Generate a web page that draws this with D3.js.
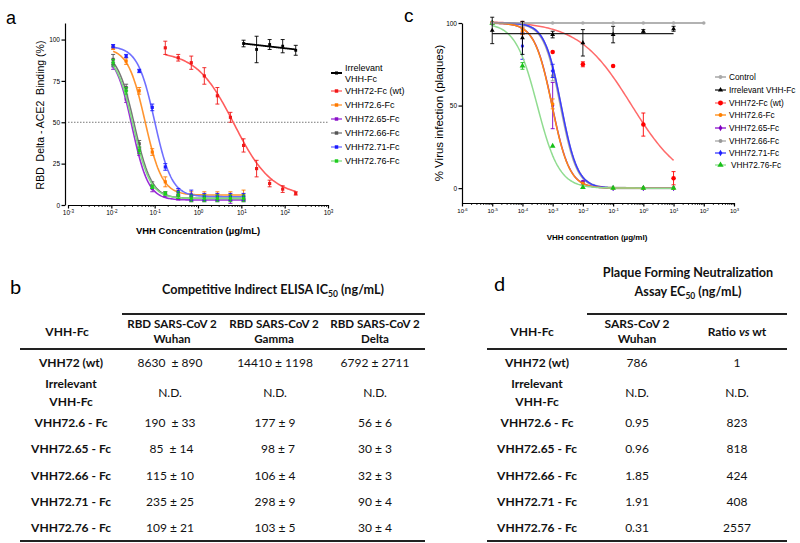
<!DOCTYPE html>
<html>
<head>
<meta charset="utf-8">
<script src="https://cdn.jsdelivr.net/npm/d3@7"></script>
<style>
  body { margin: 0; background: #fff; }
  svg { display: block; }
  .pre { white-space: pre; }
</style>
</head>
<body>
<div id="fig"></div>
<script>
// ---- panel a : competition ELISA, RBD Delta ----
var concA = [0.011, 0.022, 0.044, 0.088, 0.176, 0.35, 0.70, 1.4, 2.8, 5.6, 11.25];
var concAwt = [0.176, 0.35, 0.70, 1.4, 2.8, 5.6, 11.25, 22.5, 45, 90, 180];
var concAirr = [11.25, 22.5, 45, 90, 180];

var aIrrY = [97.6, 94, 97, 96, 93.5], aIrrErr = [2, 8, 3, 4, 3];
var aWtY = [95, 89, 86, 78, 66, 53, 36, 22, 13, 9.6, 7], aWtErr = [4, 2, 4, 5, 5, 3, 4, 5, 2, 2, 1];
var a6Y = [95, 87, 69, 32, 14, 7, 6, 6, 6, 6, 6], a6Err = [1, 2, 2, 2, 3, 2, 2, 2, 2, 2, 3];
var a65Y = [84, 64, 32, 10, 6, 4, 3, 3, 3, 3, 3], a65Err = [2, 2, 2, 2, 1, 1, 1, 1, 1, 2, 1];
var a66Y = [88, 71, 37, 12, 7, 5, 4, 4, 4, 4, 4], a66Err = [3, 2, 2, 2, 1, 1, 1, 1, 1, 1, 1];
var a71Y = [96, 90, 81, 59, 23, 8, 6, 5, 5, 5, 5], a71Err = [1, 1, 1, 2, 2, 2, 3, 2, 2, 2, 2];
var a76Y = [86, 69, 33, 11, 7, 6, 4, 4, 4, 4, 4], a76Err = [2, 2, 2, 1, 1, 2, 2, 2, 2, 2, 2];

// fitted 4PL: [top, bottom, IC50, hill]; irrelevant is a straight line [start, end]
var aIrrFit = [97.6, 94];
var aWtFit = [93, 5, 6.8, 1.0];
var a6Fit = [95, 6, 0.06, 2.2];
var a65Fit = [92, 3, 0.03, 2.3];
var a66Fit = [93, 4, 0.034, 2.2];
var a71Fit = [96, 5, 0.1, 2.2];
var a76Fit = [92, 4, 0.032, 2.2];

// ---- panel c : plaque neutralization ----
var concC = [1e-5, 1e-4, 1e-3, 1e-2, 1e-1, 1, 10];
var concCctrl = [1e-5, 1e-4, 1e-3, 1e-2, 1e-1, 1, 10, 100];

var cCtrlY = [100, 100, 100, 100, 100, 100, 100, 100], cCtrlErr = [0, 0, 0, 0, 0, 0, 0, 0];
var cIrrY = [95.5, 91, 93, 88, 93, 95, 96.5], cIrrErr = [8, 10, 2, 8, 5, 1, 1.5];
var cWtY = [100, 100, 82.5, 75, 74, 38.5, 6], cWtErr = [0, 0.5, 0, 1.5, 0, 7, 4];
var c6Y = [100, 95, 51, 3, 0, 0, 0], c6Err = [0, 2, 3, 0.5, 0, 0, 0];
var c65Y = [100, 95, 50, 3.5, 0, 0, 0], c65Err = [0, 2, 14, 1, 0, 0, 0];
var c66Y = [100, 96, 68, 3, 0, 0, 0], c66Err = [0, 2, 3, 0.5, 0, 0, 0];
var c71Y = [100, 86, 71, 3, 0, 0, 0], c71Err = [0, 8, 4, 1, 0, 0, 0];
var c76Y = [100, 74, 25.5, 0.5, 0, 0, 0], c76Err = [0, 2, 0.5, 0.5, 0, 0, 0];

var cCtrlFit = [100, 100];
var cIrrFit = [93.6, 93.6];
var cWtFit = [101, 0, 0.4, 0.5];
var c6Fit = [100, 0, 0.00095, 1.5];
var c65Fit = [100, 0, 0.00096, 1.5];
var c66Fit = [100, 0, 0.00185, 1.6];
var c71Fit = [100, 0, 0.00191, 1.6];
var c76Fit = [100, 0, 0.00031, 1.2];

// ---- tables b and d ----
var rowNames = ["VHH72 (wt)", "Irrelevant|VHH-Fc", "VHH72.6 - Fc", "VHH72.65 - Fc", "VHH72.66 - Fc", "VHH72.71 - Fc", "VHH72.76 - Fc"];
var bWuhan = ["8630  \u00b1 890", "N.D.", "190  \u00b1 33", " 85  \u00b1 14", "115 \u00b1 10", "235 \u00b1 25", "109 \u00b1 21"];
var bGamma = ["14410 \u00b1 1198", "N.D.", "177 \u00b1 9", "  98 \u00b1 7", "106 \u00b1 4", "298 \u00b1 9", "103 \u00b1 5"];
var bDelta = ["6792 \u00b1 2711", "N.D.", "56 \u00b1 6", "30 \u00b1 3", "32 \u00b1 3", "90 \u00b1 4", "30 \u00b1 4"];
var dEc50 = ["786", "N.D.", "0.95", "0.96", "1.85", "1.91", "0.31"];
var dRatio = ["1", "N.D.", "823", "818", "424", "408", "2557"];

var width = 800, height = 543;
var plotFont = "'Liberation Sans', Arial, sans-serif";
var tableFont = "Lato, 'Open Sans', sans-serif";

var svg = d3.select("#fig").append("svg")
    .attr("width", width)
    .attr("height", height);
svg.append("rect").attr("width", width).attr("height", height).attr("fill", "#fff");

function logistic(p) {
  return function(x) { return p[1] + (p[0] - p[1]) / (1 + Math.pow(x / p[2], p[3])); };
}
function straight(p, lo, hi) {
  return function(x) { return p[0] + (p[1] - p[0]) * Math.log(x / lo) / Math.log(hi / lo); };
}

function logAxis(g, x, y0, labelSize) {
  var majors = x.ticks(40).filter(function(d) { return Math.abs(Math.log10(d) - Math.round(Math.log10(d))) < 1e-9; });
  var minors = x.ticks(40).filter(function(d) { return majors.indexOf(d) < 0; });
  var ax = g.append("g").attr("transform", "translate(0," + y0 + ")")
      .call(d3.axisBottom(x).tickValues(majors).tickSize(3.5).tickSizeOuter(0).tickFormat(""));
  ax.selectAll("path,line").attr("stroke", "#000").attr("stroke-width", 1.2);
  ax.selectAll(".tick").append("text")
      .attr("y", 10).attr("fill", "#000")
      .attr("font-family", plotFont).attr("font-size", labelSize).attr("text-anchor", "middle")
      .each(function(d) {
        var t = d3.select(this);
        t.append("tspan").text("10");
        t.append("tspan").attr("dy", -2.5).attr("font-size", labelSize * 0.7).text(String(Math.round(Math.log10(d))));
      });
  var mi = g.append("g").attr("transform", "translate(0," + y0 + ")")
      .call(d3.axisBottom(x).tickValues(minors).tickSize(2).tickFormat(""));
  mi.select(".domain").remove();
  mi.selectAll("line").attr("stroke", "#000").attr("stroke-width", 0.8);
}

function linAxis(g, x0, y, ticks, labelSize) {
  var ax = g.append("g").attr("transform", "translate(" + x0 + ",0)")
      .call(d3.axisLeft(y).tickValues(ticks).tickSize(3.5).tickSizeOuter(0));
  ax.selectAll("path,line").attr("stroke", "#000").attr("stroke-width", 1.2);
  ax.selectAll("text").attr("font-family", plotFont).attr("font-size", labelSize).attr("fill", "#000").attr("x", -5);
}

function drawSeries(g, x, y, s, lineW) {
  var lo = s.x[0], hi = s.x[s.x.length - 1];
  var f = s.line ? straight(s.fit, lo, hi) : logistic(s.fit);
  var xs = d3.range(0, 121).map(function(i) { return lo * Math.pow(hi / lo, i / 120); });
  g.append("path")
      .datum(xs)
      .attr("fill", "none")
      .attr("stroke", s.curve)
      .attr("stroke-width", s.lw || lineW)
      .attr("d", d3.line().x(function(d) { return x(d); }).y(function(d) { return y(f(d)); }));
  var pts = s.x.map(function(c, i) { return {c: c, v: s.y[i], e: s.err[i]}; });
  var eb = g.append("g").attr("stroke", s.color).attr("stroke-width", 0.9);
  pts.filter(function(d) { return d.e > 0.6; }).forEach(function(d) {
    eb.append("line").attr("x1", x(d.c)).attr("x2", x(d.c)).attr("y1", y(d.v - d.e)).attr("y2", y(d.v + d.e));
    eb.append("line").attr("x1", x(d.c) - 2).attr("x2", x(d.c) + 2).attr("y1", y(d.v - d.e)).attr("y2", y(d.v - d.e));
    eb.append("line").attr("x1", x(d.c) - 2).attr("x2", x(d.c) + 2).attr("y1", y(d.v + d.e)).attr("y2", y(d.v + d.e));
  });
  g.append("g").selectAll("path").data(pts).enter().append("path")
      .attr("transform", function(d) { return "translate(" + x(d.c) + "," + y(d.v) + ")"; })
      .attr("d", d3.symbol().type(s.sym).size(s.size || 10))
      .attr("fill", s.color);
}

function legend(g, items, x0, ys, size) {
  items.forEach(function(s, i) {
    var yy = ys[i];
    g.append("line").attr("x1", x0).attr("x2", x0 + 11).attr("y1", yy).attr("y2", yy)
        .attr("stroke", s.curve).attr("stroke-width", s.name === "Irrelevant VHH-Fc" && size > 8.5 ? 2 : 1.3);
    g.append("path").attr("transform", "translate(" + (x0 + 5.5) + "," + yy + ")")
        .attr("d", d3.symbol().type(s.sym).size((s.size || 10) * 1.2)).attr("fill", s.color);
    var lines = s.legend || [s.name];
    var t = g.append("text").attr("y", yy - (lines.length - 1) * 5.5 + size * 0.35)
        .attr("font-family", plotFont).attr("font-size", size).attr("fill", "#000");
    lines.forEach(function(l, k) {
      t.append("tspan").attr("x", x0 + 14 + (s.indent || 0)).attr("dy", k ? 11 : 0).text(l);
    });
  });
}

// ================= panel a =================
var ga = svg.append("g");
var xa = d3.scaleLog().domain([1e-3, 1e3]).range([68, 328]);
var ya = d3.scaleLinear().domain([0, 110]).range([205, 23]);

ga.append("line").attr("x1", xa(1e-3)).attr("x2", xa(1e3)).attr("y1", ya(50)).attr("y2", ya(50))
    .attr("stroke", "#555").attr("stroke-width", 0.8).attr("stroke-dasharray", "1.5,1.5");

var seriesA = [
  {name: "Irrelevant VHH-Fc", legend: ["Irrelevant", "VHH-Fc"], x: concAirr, y: aIrrY, err: aIrrErr, fit: aIrrFit, line: true, color: "#000", curve: "#000", sym: d3.symbolSquare, lw: 1.8, size: 8},
  {name: "VHH72-Fc (wt)", x: concAwt, y: aWtY, err: aWtErr, fit: aWtFit, color: "#f01818", curve: "#ff5c5c", sym: d3.symbolSquare},
  {name: "VHH72.6-Fc", x: concA, y: a6Y, err: a6Err, fit: a6Fit, color: "#ff7a00", curve: "#ff9530", sym: d3.symbolSquare},
  {name: "VHH72.65-Fc", x: concA, y: a65Y, err: a65Err, fit: a65Fit, color: "#8a10c8", curve: "#9a2ed6", sym: d3.symbolSquare},
  {name: "VHH72.66-Fc", x: concA, y: a66Y, err: a66Err, fit: a66Fit, color: "#555", curve: "#777", sym: d3.symbolSquare},
  {name: "VHH72.71-Fc", x: concA, y: a71Y, err: a71Err, fit: a71Fit, color: "#1a1aff", curve: "#7070ff", sym: d3.symbolSquare},
  {name: "VHH72.76-Fc", x: concA, y: a76Y, err: a76Err, fit: a76Fit, color: "#1ecc1e", curve: "#80dd80", sym: d3.symbolSquare}
];
seriesA.forEach(function(s) { drawSeries(ga, xa, ya, s, 1.6); });

linAxis(ga, 65, ya, [0, 25, 50, 75, 100], 6.5);
logAxis(ga, xa, 205, 6.5);

ga.append("text").attr("x", 198).attr("y", 234).attr("text-anchor", "middle")
    .attr("font-family", plotFont).attr("font-size", 9.5).attr("font-weight", "bold")
    .text("VHH Concentration (\u00b5g/mL)");
ga.append("text").attr("class", "pre").attr("transform", "translate(44,115) rotate(-90)").attr("text-anchor", "middle")
    .attr("font-family", plotFont).attr("font-size", 10.5)
    .text("RBD  Delta - ACE2  Binding (%)");
ga.append("text").attr("x", 6).attr("y", 24).attr("font-family", plotFont).attr("font-size", 18).text("a");

legend(ga, seriesA, 331, [73, 91, 105, 119, 133, 147, 161], 9);

// ================= panel c =================
var gc = svg.append("g");
var xc = d3.scaleLog().domain([1e-6, 1e3]).range([462, 734]);
var yc = d3.scaleLinear().domain([-9, 100]).range([203, 23]);

var seriesC = [
  {name: "Control", x: concCctrl, y: cCtrlY, err: cCtrlErr, fit: cCtrlFit, line: true, color: "#aaa", curve: "#999", sym: d3.symbolCircle, lw: 1.3},
  {name: "Irrelevant VHH-Fc", x: concC, y: cIrrY, err: cIrrErr, fit: cIrrFit, line: true, color: "#000", curve: "#222", sym: d3.symbolTriangle, lw: 1.3},
  {name: "VHH72-Fc (wt)", x: concC, y: cWtY, err: cWtErr, fit: cWtFit, color: "#ff0000", curve: "#ff6a6a", sym: d3.symbolCircle, size: 16},
  {name: "VHH72.6-Fc", x: concC, y: c6Y, err: c6Err, fit: c6Fit, color: "#ff8000", curve: "#ff8a10", sym: d3.symbolCircle},
  {name: "VHH72.65-Fc", x: concC, y: c65Y, err: c65Err, fit: c65Fit, color: "#8000c0", curve: "#8a10cc", sym: d3.symbolDiamond},
  {name: "VHH72.66-Fc", x: concC, y: c66Y, err: c66Err, fit: c66Fit, color: "#999", curve: "#a8a8a8", sym: d3.symbolCircle, lw: 2.4},
  {name: "VHH72.71-Fc", x: concC, y: c71Y, err: c71Err, fit: c71Fit, color: "#2020ff", curve: "#3a3aff", sym: d3.symbolDiamond},
  {name: "VHH72.76-Fc", x: concC, y: c76Y, err: c76Err, fit: c76Fit, color: "#18c018", curve: "#90dc90", sym: d3.symbolTriangle, size: 14, indent: 2}
];
// draw the sigmoid curves first, control and irrelevant last
[2, 5, 6, 4, 3, 7, 0, 1].forEach(function(i) { drawSeries(gc, xc, yc, seriesC[i], 1.5); });

linAxis(gc, 462, yc, [0, 50, 100], 6.5);
logAxis(gc, xc, 203, 6);

gc.append("text").attr("x", 597).attr("y", 240).attr("text-anchor", "middle")
    .attr("font-family", plotFont).attr("font-size", 8).attr("font-weight", "bold")
    .text("VHH concentration (\u00b5g/ml)");
gc.append("text").attr("transform", "translate(443,113) rotate(-90)").attr("text-anchor", "middle")
    .attr("font-family", plotFont).attr("font-size", 11.5)
    .text("% Virus infection (plaques)");
gc.append("text").attr("x", 404).attr("y", 22).attr("font-family", plotFont).attr("font-size", 19).text("c");

legend(gc, seriesC, 715, [77, 90, 103, 115, 128, 141, 153, 165], 8.3);

// ================= tables =================
var rowY = [363, 393, 423, 449, 476, 502, 528];

function tText(g, x, y, str, opts) {
  opts = opts || {};
  return g.append("text").attr("class", "pre")
      .attr("x", x).attr("y", y).attr("dy", "0.35em")
      .attr("text-anchor", opts.anchor || "middle")
      .attr("font-family", tableFont)
      .attr("font-size", opts.size || 12)
      .attr("font-weight", opts.bold ? "bold" : "normal")
      .attr("fill", "#111")
      .text(str);
}
function hline(g, x1, x2, y) {
  g.append("line").attr("x1", x1).attr("x2", x2).attr("y1", y).attr("y2", y)
      .attr("stroke", "#222").attr("stroke-width", 2);
}
function rowLabels(g, cx) {
  rowNames.forEach(function(n, i) {
    var parts = n.split("|");
    if (parts.length > 1) {
      tText(g, cx, rowY[i] - 9, parts[0], {bold: true});
      tText(g, cx, rowY[i] + 9, parts[1], {bold: true});
    } else {
      tText(g, cx, rowY[i], n, {bold: true});
    }
  });
}
function column(g, cx, vals) {
  vals.forEach(function(v, i) { tText(g, cx, rowY[i], v); });
}
function subTitle(g, x, y, pre, post) {
  var t = g.append("text").attr("x", x).attr("y", y).attr("dy", "0.35em").attr("text-anchor", "middle")
      .attr("font-family", tableFont).attr("font-size", 12.6).attr("font-weight", "bold").attr("fill", "#111");
  t.append("tspan").text(pre);
  t.append("tspan").attr("font-size", 8.5).attr("dy", 3).text("50");
  t.append("tspan").attr("dy", -3).text(post);
}

// ---- table b ----
var gb = svg.append("g");
gb.append("text").attr("x", 10).attr("y", 294).attr("font-family", tableFont).attr("font-size", 20).text("b");
subTitle(gb, 273, 290, "Competitive Indirect ELISA IC", " (ng/mL)");
hline(gb, 122, 425, 314);
hline(gb, 20, 425, 349);
hline(gb, 20, 425, 541);
tText(gb, 67, 332, "VHH-Fc", {bold: true});
[["Wuhan", 172], ["Gamma", 274], ["Delta", 375]].forEach(function(c) {
  tText(gb, c[1], 324, "RBD SARS-CoV 2", {bold: true, size: 11.6});
  tText(gb, c[1], 339, c[0], {bold: true, size: 11.6});
});
rowLabels(gb, 71);
column(gb, 170, bWuhan);
column(gb, 275, bGamma);
column(gb, 375, bDelta);

// ---- table d ----
var gd = svg.append("g");
gd.append("text").attr("x", 494).attr("y", 291).attr("font-family", tableFont).attr("font-size", 20).text("d");
tText(gd, 688, 273, "Plaque Forming Neutralization", {bold: true, size: 12.6});
subTitle(gd, 688, 292, "Assay EC", " (ng/mL)");
hline(gd, 587, 787, 314);
hline(gd, 487, 787, 349);
hline(gd, 487, 787, 541);
tText(gd, 532, 332, "VHH-Fc", {bold: true});
tText(gd, 637, 324, "SARS-CoV 2", {bold: true});
tText(gd, 637, 339, "Wuhan", {bold: true});
var rt = tText(gd, 737, 332, "", {bold: true});
rt.append("tspan").text("Ratio ");
rt.append("tspan").attr("font-style", "italic").text("vs");
rt.append("tspan").text(" wt");
rowLabels(gd, 537);
column(gd, 637, dEc50);
column(gd, 737, dRatio);
</script>
</body>
</html>
